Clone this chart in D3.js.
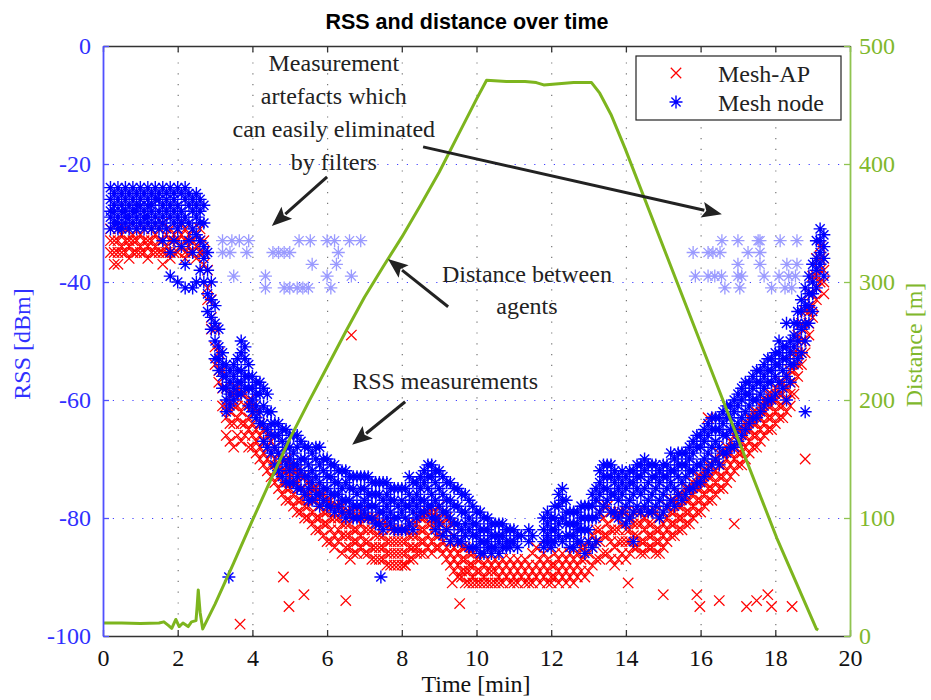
<!DOCTYPE html>
<html>
<head>
<meta charset="utf-8">
<script src="https://cdn.jsdelivr.net/npm/d3@7"></script>
<style>
  body { margin: 0; background: #fff; }
  text { font-family: "Liberation Serif", "Times New Roman", serif; }
</style>
</head>
<body>
<script>
// ---- data ----
var timeTicks = [0, 2, 4, 6, 8, 10, 12, 14, 16, 18, 20];
var rssTicks = [-100, -80, -60, -40, -20, 0];
var distTicks = [0, 100, 200, 300, 400, 500];

// Mesh-AP RSS samples: [time (min), rss values (dBm) ...]
var meshAP = [
  [0.2,-31,-33,-35],[0.3,-33,-35,-37],[0.4,-31,-33,-35,-37],[0.5,-32,-34,-35],[0.6,-31,-33,-35],
  [0.7,-33,-34,-36],[0.8,-32,-33,-35],[0.9,-31,-33,-35],[1.0,-32,-34,-35],[1.1,-31,-33,-35],
  [1.2,-33,-34,-36],[1.3,-31,-33,-35],[1.4,-32,-34,-35],[1.5,-31,-33,-35],[1.6,-30,-33,-35,-37],
  [1.7,-32,-34,-35],[1.8,-31,-33,-35,-36],[1.9,-32,-33,-35],[2.0,-31,-33,-35],[2.1,-30,-32,-34],
  [2.2,-31,-33,-35,-36],[2.3,-32,-34,-35],[2.4,-31,-33,-35],[2.5,-32,-34,-36],[2.6,-31,-33,-35],
  [2.7,-33,-35,-37],[2.8,-38,-41,-43],[2.9,-43,-46,-48],[3.0,-48,-51,-54],[3.1,-52,-55,-57],
  [3.2,-55,-58,-61],[3.3,-58,-61,-63,-66],[3.4,-59,-62,-64,-67],[3.5,-59,-61,-64,-68],[3.6,-58,-61,-63,-66],
  [3.7,-59,-62,-64,-67],[3.8,-59,-61,-64,-66],[3.9,-60,-63,-65,-68],[4.0,-61,-64,-66,-68],[4.1,-62,-65,-67,-69],
  [4.2,-64,-66,-68,-70],[4.3,-65,-67,-69,-71],[4.4,-66,-68,-70,-72],[4.5,-67,-69,-71,-73],[4.6,-68,-70,-72,-74],
  [4.7,-69,-71,-73,-75],[4.8,-70,-72,-74,-76],[4.9,-70,-72,-75,-77],[5.0,-71,-73,-75,-77],[5.1,-72,-74,-76,-78],
  [5.2,-72,-74,-77,-79],[5.3,-73,-75,-77,-79],[5.4,-73,-76,-78,-80],[5.5,-74,-76,-78,-80],[5.6,-75,-77,-79,-81],
  [5.7,-75,-77,-80,-82],[5.8,-76,-78,-80,-82],[5.9,-76,-79,-81,-83],[6.0,-77,-79,-81,-84],[6.1,-77,-80,-82,-84],
  [6.2,-78,-80,-83,-85],[6.3,-78,-80,-82,-84],[6.4,-78,-81,-83,-86],[6.5,-79,-81,-83,-85],[6.6,-79,-81,-83,-85],
  [6.7,-79,-82,-84,-86],[6.8,-80,-82,-84,-86],[6.9,-79,-81,-83,-85],[7.0,-80,-82,-84,-86],[7.1,-80,-82,-84,-86],
  [7.2,-80,-82,-85,-87],[7.3,-80,-83,-85,-87],[7.4,-81,-83,-85,-87],[7.5,-81,-83,-85,-87],[7.6,-81,-84,-86,-88],
  [7.7,-82,-84,-86,-88],[7.8,-82,-84,-86,-88],[7.9,-82,-84,-86,-88],[8.0,-82,-84,-86,-88],[8.1,-82,-84,-86,-88],
  [8.2,-81,-83,-85,-87],[8.3,-81,-83,-85,-87],[8.4,-81,-83,-85,-86],[8.5,-80,-82,-84,-86],[8.6,-80,-82,-84,-86],
  [8.7,-79,-81,-83,-85],[8.8,-79,-81,-84,-86],[8.9,-79,-81,-83,-85],[9.0,-78,-80,-83,-85],[9.1,-79,-81,-84,-86],
  [9.2,-80,-82,-85,-87],[9.3,-81,-84,-86,-88],[9.4,-83,-85,-87,-89],[9.5,-84,-86,-88,-90],[9.6,-85,-87,-89,-90],
  [9.7,-85,-87,-89,-91],[9.8,-86,-88,-89,-91],[9.9,-86,-88,-90,-91],[10.0,-87,-89,-91],[10.1,-87,-89,-91],
  [10.2,-88,-90,-91],[10.3,-87,-89,-91],[10.4,-88,-89,-91],[10.5,-87,-89,-91],[10.6,-88,-90,-91],
  [10.7,-87,-89,-91],[10.8,-88,-90],[10.9,-87,-89,-91],[11.0,-88,-90,-91],[11.1,-87,-89,-91],
  [11.2,-88,-90],[11.3,-87,-89,-91],[11.4,-88,-90,-91],[11.5,-86,-89,-91],[11.6,-85,-88,-90],
  [11.7,-87,-89,-91],[11.8,-86,-88,-90],[11.9,-87,-89,-91],[12.0,-88,-90,-91],[12.1,-86,-88,-90],
  [12.2,-87,-89,-91],[12.3,-86,-88,-90],[12.4,-87,-89,-91],[12.5,-86,-88,-90],[12.6,-87,-89,-91],
  [12.7,-86,-88,-90],[12.8,-85,-87,-89],[12.9,-85,-87,-90],[13.0,-84,-86,-89],[13.1,-83,-85,-88],
  [13.2,-82,-84,-87],[13.3,-79,-82,-84,-87],[13.4,-78,-80,-83,-86],[13.5,-78,-81,-83,-86],[13.6,-79,-82,-84,-87],
  [13.7,-80,-82,-85,-88],[13.8,-79,-82,-84,-87],[13.9,-79,-81,-84,-86],[14.0,-79,-82,-84,-87],[14.1,-80,-82,-84,-86],
  [14.2,-79,-81,-83,-85],[14.3,-79,-81,-83,-85],[14.4,-79,-81,-84,-86],[14.5,-80,-82,-84,-86],[14.6,-79,-81,-83,-85],
  [14.7,-79,-81,-83,-85],[14.8,-79,-82,-84,-86],[14.9,-80,-82,-84,-86],[15.0,-79,-81,-83,-85],[15.1,-78,-80,-82,-84],
  [15.2,-77,-79,-81,-83],[15.3,-77,-79,-81,-83],[15.4,-76,-78,-80,-82],[15.5,-76,-78,-80,-82],[15.6,-75,-77,-79,-81],
  [15.7,-75,-77,-79,-81],[15.8,-74,-76,-78,-80],[15.9,-73,-75,-77,-79],[16.0,-73,-75,-77,-79],[16.1,-72,-74,-76,-78],
  [16.2,-71,-73,-75,-77],[16.3,-71,-73,-75,-77],[16.4,-70,-72,-74,-76],[16.5,-69,-71,-73,-75],[16.6,-69,-71,-73,-75],
  [16.7,-68,-70,-72,-74],[16.8,-67,-69,-71,-73],[16.9,-66,-68,-70,-72],[17.0,-65,-67,-69,-71],[17.1,-65,-67,-69,-71],
  [17.2,-64,-66,-68,-70],[17.3,-63,-65,-67,-69],[17.4,-62,-64,-66,-68],[17.5,-62,-64,-66,-68],[17.6,-61,-63,-65,-67],
  [17.7,-60,-62,-64,-66],[17.8,-59,-61,-63,-65],[17.9,-59,-61,-63,-65],[18.0,-58,-60,-62,-64],[18.1,-57,-59,-61,-63],
  [18.2,-57,-59,-61,-63],[18.3,-56,-58,-60,-62],[18.4,-55,-57,-59,-61],[18.5,-52,-55,-57,-59],[18.6,-49,-52,-54,-56],
  [18.7,-47,-50,-52,-54],[18.8,-45,-48,-50,-52],[18.9,-42,-45,-47,-49],[19.0,-39,-42,-44,-46],[19.1,-36,-39,-41,-43],
  [19.2,-34,-36,-38,-40],[19.3,-36,-38,-40,-42]
];
// isolated Mesh-AP readings
var meshAPStray = [
  [3.67,-98],[4.83,-90],[4.98,-95],[5.38,-93],[6.5,-94],[6.62,-87],[6.65,-49],[8.08,-88],
  [9.35,-91],[9.55,-94.5],[14.06,-91],[15.0,-93],[15.9,-93],[15.98,-95],[16.2,-63],[16.5,-94],
  [16.9,-81],[17.23,-95],[17.5,-94],[17.8,-93],[17.9,-95],[18.45,-95],[18.8,-70]
];

// Mesh node RSS samples: [time (min), rss values (dBm) ...]
var meshNode = [
  [0.2,-24,-26,-28,-29,-31],[0.3,-25,-27,-28,-30],[0.4,-24,-26,-29,-30,-31],[0.5,-25,-27,-28,-31],
  [0.6,-24,-26,-28,-29,-30],[0.7,-25,-27,-29,-31],[0.8,-24,-26,-28,-30],[0.9,-25,-27,-28,-29,-31],
  [1.0,-24,-26,-27,-30],[1.1,-25,-28,-29,-31],[1.2,-24,-26,-27,-29,-30],[1.3,-25,-27,-28,-31],
  [1.4,-24,-26,-29,-30],[1.5,-25,-26,-28,-31],[1.6,-24,-27,-29,-30,-33],[1.7,-25,-26,-28,-31],
  [1.8,-24,-27,-29,-35,-39],[1.9,-25,-26,-28,-30,-33],[2.0,-24,-27,-29,-31,-40],[2.1,-25,-28,-30,-34],
  [2.2,-24,-26,-29,-37,-41],[2.3,-25,-27,-30,-33],[2.4,-26,-28,-31,-35,-41],[2.5,-25,-27,-29,-32,-40],
  [2.6,-26,-28,-30,-33,-38],[2.7,-27,-30,-34,-36,-40],[2.8,-35,-38,-42,-45],[2.9,-40,-43,-46,-48],
  [3.0,-44,-47,-50,-53],[3.1,-48,-51,-53,-55],[3.2,-52,-54,-56,-58],[3.3,-54,-56,-58,-60,-62],
  [3.4,-55,-57,-59,-61],[3.5,-54,-56,-58,-60],[3.6,-53,-55,-57,-59],[3.7,-50,-52,-55,-57,-59],
  [3.8,-51,-53,-56,-58],[3.9,-54,-56,-58,-61],[4.0,-56,-58,-60,-62],[4.1,-57,-59,-61,-63],
  [4.2,-57,-59,-62,-64],[4.3,-58,-61,-64,-67],[4.4,-59,-62,-65,-68],[4.5,-62,-64,-66,-69],
  [4.6,-64,-66,-68,-71],[4.7,-64,-66,-69,-72],[4.8,-65,-67,-70,-73],[4.9,-65,-68,-71,-74],
  [5.0,-66,-68,-70,-72,-74],[5.1,-66,-69,-71,-74],[5.2,-66,-68,-71,-73,-75],[5.3,-67,-70,-72,-75],
  [5.4,-68,-70,-73,-76],[5.5,-68,-71,-73,-75,-77],[5.6,-69,-72,-74,-77],[5.7,-68,-70,-73,-76],
  [5.8,-68,-71,-74,-76,-78],[5.9,-70,-72,-75,-77],[6.0,-70,-73,-75,-78],[6.1,-71,-73,-76,-78],
  [6.2,-71,-74,-76,-79],[6.3,-72,-74,-76,-78],[6.4,-72,-75,-77,-79],[6.5,-72,-74,-77,-80],
  [6.6,-73,-75,-77,-79],[6.7,-73,-75,-78,-80],[6.8,-73,-76,-78,-80],[6.9,-73,-75,-78,-80],
  [7.0,-73,-75,-77,-79],[7.1,-73,-76,-78,-80],[7.2,-74,-76,-78,-80],[7.3,-74,-76,-78,-81],
  [7.4,-74,-76,-79,-81],[7.5,-74,-77,-79,-82],[7.6,-74,-76,-78,-80],[7.7,-75,-77,-79,-81],
  [7.8,-75,-77,-80,-82],[7.9,-75,-78,-80,-82],[8.0,-75,-77,-79,-82],[8.1,-75,-78,-80,-82],
  [8.2,-73,-76,-78,-81],[8.3,-74,-77,-79,-82],[8.4,-74,-76,-78,-80],[8.5,-73,-75,-77,-79],
  [8.6,-72,-74,-77,-79],[8.7,-71,-73,-75,-78],[8.8,-71,-73,-76,-78,-80],[8.9,-72,-74,-77,-80,-82],
  [9.0,-72,-75,-78,-81],[9.1,-73,-76,-79,-83],[9.2,-74,-77,-79,-82],[9.3,-74,-77,-80,-84],
  [9.4,-75,-78,-81,-83],[9.5,-75,-78,-81,-84],[9.6,-76,-79,-82,-84],[9.7,-76,-79,-81,-83],
  [9.8,-77,-80,-82,-85],[9.9,-78,-81,-83,-85],[10.0,-79,-81,-83,-85],[10.1,-79,-82,-84,-86],
  [10.2,-80,-82,-84,-86],[10.3,-80,-82,-84,-85],[10.4,-81,-83,-85,-86],[10.5,-81,-83,-85],
  [10.6,-81,-83,-84,-86],[10.7,-81,-83,-85],[10.8,-82,-84,-85],[10.9,-82,-84,-85],
  [11.0,-82,-84],[11.1,-83,-85],[11.2,-83],[11.4,-82,-84],[11.5,-83],
  [11.8,-80,-82,-84,-85],[11.9,-79,-81,-83,-84],[12.0,-80,-82,-84,-85],[12.1,-78,-80,-82,-84],
  [12.2,-76,-78,-81,-83],[12.3,-75,-77,-80,-84],[12.4,-77,-79,-81,-83],[12.5,-79,-81,-83,-85],
  [12.6,-79,-81,-83,-85],[12.7,-79,-81,-82,-84],[12.8,-78,-80,-82,-84],[12.9,-78,-80,-82,-86],
  [13.0,-78,-80,-82,-84],[13.1,-76,-78,-80,-85],[13.2,-75,-77,-80,-84],[13.3,-72,-74,-76,-79],
  [13.4,-71,-73,-75,-78],[13.5,-71,-73,-75,-77],[13.6,-71,-73,-76,-79],[13.7,-72,-74,-76,-79],
  [13.8,-73,-75,-77,-80],[13.9,-72,-74,-76,-79],[14.0,-73,-75,-78,-81],[14.1,-72,-74,-77,-80],
  [14.2,-72,-74,-76,-79,-84],[14.3,-71,-73,-75,-78],[14.4,-71,-73,-76,-79],[14.5,-70,-72,-75,-78],
  [14.6,-71,-74,-77,-79],[14.7,-71,-73,-76,-79],[14.8,-71,-73,-75,-78],[14.9,-72,-74,-77,-80],
  [15.0,-71,-73,-76,-79],[15.1,-71,-73,-75,-78],[15.2,-69,-72,-74,-77],[15.3,-70,-72,-75,-78],
  [15.4,-69,-71,-73,-76],[15.5,-69,-71,-74,-77],[15.6,-69,-71,-73,-76],[15.7,-68,-70,-72,-75],
  [15.8,-67,-69,-72,-75],[15.9,-66,-68,-71,-74],[16.0,-66,-68,-71,-74],[16.1,-65,-67,-70,-73],
  [16.2,-64,-66,-69,-72],[16.3,-63,-65,-68,-71],[16.4,-63,-65,-67,-70],[16.5,-63,-65,-68,-71],
  [16.6,-62,-64,-66,-69],[16.7,-61,-63,-66,-69],[16.8,-61,-63,-65,-68],[16.9,-60,-62,-65,-68],
  [17.0,-59,-61,-64,-67],[17.1,-58,-60,-63,-66],[17.2,-57,-59,-62,-65],[17.3,-57,-59,-61,-64],
  [17.4,-56,-58,-60,-63],[17.5,-55,-57,-60,-63],[17.6,-55,-57,-59,-62],[17.7,-54,-56,-58,-61],
  [17.8,-53,-55,-57,-60],[17.9,-53,-55,-57,-60],[18.0,-52,-54,-56,-59],[18.1,-50,-52,-54,-57],
  [18.2,-51,-53,-55,-58],[18.3,-47,-51,-53,-56,-60],[18.4,-50,-52,-54,-57],[18.5,-47,-49,-51,-54],
  [18.6,-45,-47,-50,-53],[18.7,-43,-45,-48,-52],[18.8,-41,-44,-47,-50,-62],[18.9,-39,-42,-44,-47],
  [19.0,-37,-40,-42,-45],[19.1,-33,-36,-38,-41],[19.2,-31,-33,-35,-37],[19.3,-32,-34,-36,-39]
];
var meshNodeStray = [[3.37,-90],[7.44,-90]];

// Mesh node artefacts (plotted lighter)
var meshNodeArtefacts = [
  [3.2,-33],[3.45,-33],[3.65,-33],[3.9,-33],[5.25,-33],[5.55,-33],[6.0,-33],[6.2,-33],[6.6,-33],[6.9,-33],
  [3.2,-35],[3.4,-35],[3.85,-35],[4.55,-35],[4.7,-35],[4.85,-35],[5.0,-35],[6.3,-35],
  [5.6,-37],[6.25,-37],
  [3.5,-39],[4.35,-39],[6.0,-39],[6.65,-39],
  [4.35,-41],[4.85,-41],[5.0,-41],[5.2,-41],[5.35,-41],[5.5,-41],[6.1,-41],
  [16.57,-33],[17.0,-33],[17.54,-33],[17.59,-33],[18.13,-33],[18.58,-33],
  [15.8,-35],[16.2,-35],[16.33,-35],[16.52,-35],[17.27,-35],[17.59,-35],
  [17.0,-37],[17.59,-37],[18.31,-37],[18.58,-37],
  [15.86,-39],[16.2,-39],[16.38,-39],[16.56,-39],[17.0,-39],[17.1,-39],[17.7,-39],[18.1,-39],[18.36,-39],[18.54,-39],
  [16.65,-41],[17.05,-41],[17.9,-41],[18.26,-41],[18.44,-41]
];

// distance between agents
var distTime = [0, 0.5, 1.0, 1.5, 1.63, 1.75, 1.84, 1.95, 2.04, 2.14, 2.28, 2.37, 2.49, 2.52, 2.55, 2.6, 2.67,
  3.0, 3.5, 4.0, 4.5, 5.0, 5.5, 6.0, 6.5, 7.0, 7.5, 8.0, 8.5, 9.0, 9.5, 10.0, 10.27, 10.8, 11.3, 11.6, 11.8,
  12.2, 12.6, 13.08, 13.3, 13.6, 13.98, 15.98, 18.04, 19.1, 19.15];
var distMeters = [11, 11, 10.5, 11, 12, 9, 6.5, 14, 8, 11, 8, 12, 13, 25, 39, 20, 6,
  27, 62, 98, 133, 167, 198, 228, 258, 287, 313, 338, 365, 393, 424, 455, 471, 470, 470, 469, 467,
  468, 469, 469, 460, 442, 413, 250, 83, 6, 5];

// ---- layout ----
var width = 931, height = 700;
var svg = d3.select("body").append("svg")
    .attr("width", width)
    .attr("height", height);

var x = d3.scaleLinear().domain([0, 20]).range([103, 850]);
var yRss = d3.scaleLinear().domain([-100, 0]).range([636, 46]);
var yDist = d3.scaleLinear().domain([0, 500]).range([636, 46]);

var blue = "#0000ff", red = "#ff0000", green = "#7db51e";

// grid
svg.append("g")
    .attr("transform", "translate(0,636)")
    .call(d3.axisBottom(x).tickValues(timeTicks.slice(1, -1)).tickSize(-590).tickFormat(""))
    .call(g => g.select(".domain").remove())
    .selectAll("line")
    .attr("stroke", "#777").attr("stroke-width", 1.2).attr("stroke-dasharray", "1.2,9.6");

svg.append("g")
    .attr("transform", "translate(103,0)")
    .call(d3.axisLeft(yRss).tickValues(rssTicks.slice(1, -1)).tickSize(-747).tickFormat(""))
    .call(g => g.select(".domain").remove())
    .selectAll("line")
    .attr("stroke", "#4040ff").attr("stroke-width", 1.2).attr("stroke-dasharray", "1.2,8.6");

// markers
var crossPath = "M-5.2,-5.2L5.2,5.2M-5.2,5.2L5.2,-5.2";
var starPath = "M-6.5,0H6.5M0,-6.5V6.5M-4.6,-4.6L4.6,4.6M-4.6,4.6L4.6,-4.6";

function flat(rows) {
  return rows.flatMap(r => r.slice(1).map(v => ({t: r[0], v: v})));
}

svg.append("g").selectAll("path")
    .data(flat(meshAP).concat(flat(meshAPStray)))
    .enter().append("path")
    .attr("d", crossPath)
    .attr("transform", d => "translate(" + x(d.t) + "," + yRss(d.v) + ")")
    .attr("fill", "none").attr("stroke", red).attr("stroke-width", 1.25);

svg.append("g").selectAll("path")
    .data(flat(meshNode).concat(flat(meshNodeStray)))
    .enter().append("path")
    .attr("d", starPath)
    .attr("transform", d => "translate(" + x(d.t) + "," + yRss(d.v) + ")")
    .attr("fill", "none").attr("stroke", blue).attr("stroke-width", 1.4);

svg.append("g").selectAll("path")
    .data(flat(meshNodeArtefacts))
    .enter().append("path")
    .attr("d", starPath)
    .attr("transform", d => "translate(" + x(d.t) + "," + yRss(d.v) + ")")
    .attr("fill", "none").attr("stroke", "#9a9aff").attr("stroke-width", 1.3);

// distance line
var distLine = d3.line()
    .x((d, i) => x(distTime[i]))
    .y(d => yDist(d));

svg.append("path")
    .datum(distMeters)
    .attr("d", distLine)
    .attr("fill", "none")
    .attr("stroke", green)
    .attr("stroke-width", 3)
    .attr("stroke-linejoin", "round");

// axes
var fmt = d => String(d);

svg.append("g")
    .attr("transform", "translate(0,636)")
    .call(d3.axisBottom(x).tickValues(timeTicks).tickSize(-6).tickSizeOuter(0).tickPadding(13).tickFormat(fmt))
    .call(g => g.select(".domain").attr("stroke", "#333").attr("stroke-width", 1.5))
    .call(g => g.selectAll("line").attr("stroke", "#333").attr("stroke-width", 1.3))
    .call(g => g.selectAll("text").attr("font-size", 24).attr("fill", "#111")
        .attr("font-family", "Liberation Serif"));

svg.append("g")
    .attr("transform", "translate(0,46)")
    .call(d3.axisTop(x).tickValues(timeTicks).tickSize(-6).tickSizeOuter(0).tickFormat(""))
    .call(g => g.select(".domain").attr("stroke", "#333").attr("stroke-width", 1.5))
    .call(g => g.selectAll("line").attr("stroke", "#333").attr("stroke-width", 1.3));

svg.append("g")
    .attr("transform", "translate(103,0)")
    .call(d3.axisLeft(yRss).tickValues(rssTicks).tickSize(-6).tickSizeOuter(0).tickPadding(12).tickFormat(fmt))
    .call(g => g.select(".domain").attr("stroke", "#5050ff").attr("stroke-width", 1.8))
    .call(g => g.selectAll("line").attr("stroke", "#5050ff").attr("stroke-width", 1.3))
    .call(g => g.selectAll("text").attr("font-size", 24).attr("fill", "#3030ff")
        .attr("font-family", "Liberation Serif"));

svg.append("g")
    .attr("transform", "translate(850,0)")
    .call(d3.axisRight(yDist).tickValues(distTicks).tickSize(-6).tickSizeOuter(0).tickPadding(9).tickFormat(fmt))
    .call(g => g.select(".domain").attr("stroke", "#90c450").attr("stroke-width", 1.8))
    .call(g => g.selectAll("line").attr("stroke", "#90c450").attr("stroke-width", 1.3))
    .call(g => g.selectAll("text").attr("font-size", 24).attr("fill", "#80b82c")
        .attr("font-family", "Liberation Serif"));

// axis titles
svg.append("text")
    .attr("x", 476).attr("y", 692)
    .attr("text-anchor", "middle").attr("font-size", 24).attr("fill", "#111")
    .text("Time [min]");

svg.append("text")
    .attr("transform", "translate(30,344) rotate(-90)")
    .attr("text-anchor", "middle").attr("font-size", 24).attr("fill", "#3030ff")
    .text("RSS [dBm]");

svg.append("text")
    .attr("transform", "translate(922,345) rotate(-90)")
    .attr("text-anchor", "middle").attr("font-size", 24).attr("fill", "#80b82c")
    .text("Distance [m]");

svg.append("text")
    .attr("x", 467).attr("y", 29)
    .attr("text-anchor", "middle")
    .style("font-family", "'Liberation Sans', Arial, sans-serif")
    .style("font-weight", "bold").style("font-size", "21.5px")
    .text("RSS and distance over time");

// annotations (positioned in data units)
var notes = [
  {t: 6.18, v: -4.2, s: "Measurement"},
  {t: 6.18, v: -9.9, s: "artefacts which"},
  {t: 6.18, v: -15.4, s: "can easily eliminated"},
  {t: 6.18, v: -21.0, s: "by filters"},
  {t: 11.35, v: -40.0, s: "Distance between"},
  {t: 11.35, v: -45.4, s: "agents"},
  {t: 9.16, v: -58.2, s: "RSS measurements"}
];
svg.append("g").selectAll("text")
    .data(notes)
    .enter().append("text")
    .attr("x", d => x(d.t)).attr("y", d => yRss(d.v))
    .attr("text-anchor", "middle").attr("font-size", 24).attr("fill", "#222")
    .text(d => d.s);

var arrows = [
  {t0: 6.0, v0: -22.2, t1: 4.52, v1: -30.5},
  {t0: 8.57, v0: -17.1, t1: 16.57, v1: -28.5},
  {t0: 9.24, v0: -44.2, t1: 7.63, v1: -36.1},
  {t0: 8.09, v0: -60.3, t1: 6.67, v1: -67.6}
];
var headLen = 20, headHalf = 8;
arrows.forEach(function(a) {
  var x0 = x(a.t0), y0 = yRss(a.v0), x1 = x(a.t1), y1 = yRss(a.v1);
  var dx = x1 - x0, dy = y1 - y0, len = Math.sqrt(dx * dx + dy * dy);
  var ux = dx / len, uy = dy / len;
  var bx = x1 - ux * headLen, by = y1 - uy * headLen;
  svg.append("line")
      .attr("x1", x0).attr("y1", y0).attr("x2", bx + ux * 2).attr("y2", by + uy * 2)
      .attr("stroke", "#222").attr("stroke-width", 3);
  svg.append("path")
      .attr("d", "M" + x1 + "," + y1 +
        "L" + (bx - uy * headHalf) + "," + (by + ux * headHalf) +
        "L" + (bx + ux * 4) + "," + (by + uy * 4) +
        "L" + (bx + uy * headHalf) + "," + (by - ux * headHalf) + "Z")
      .attr("fill", "#222");
});

// legend
var legend = svg.append("g");
legend.append("rect")
    .attr("x", 636).attr("y", 56).attr("width", 205).attr("height", 64)
    .attr("fill", "#fff").attr("stroke", "#222").attr("stroke-width", 1.2);
legend.append("path").attr("d", crossPath).attr("transform", "translate(676,73)")
    .attr("fill", "none").attr("stroke", red).attr("stroke-width", 1.25);
legend.append("path").attr("d", starPath).attr("transform", "translate(676,102)")
    .attr("fill", "none").attr("stroke", blue).attr("stroke-width", 1.4);
legend.append("text").attr("x", 718).attr("y", 82).attr("font-size", 24).attr("fill", "#222").text("Mesh-AP");
legend.append("text").attr("x", 718).attr("y", 111).attr("font-size", 24).attr("fill", "#222").text("Mesh node");
</script>
</body>
</html>
